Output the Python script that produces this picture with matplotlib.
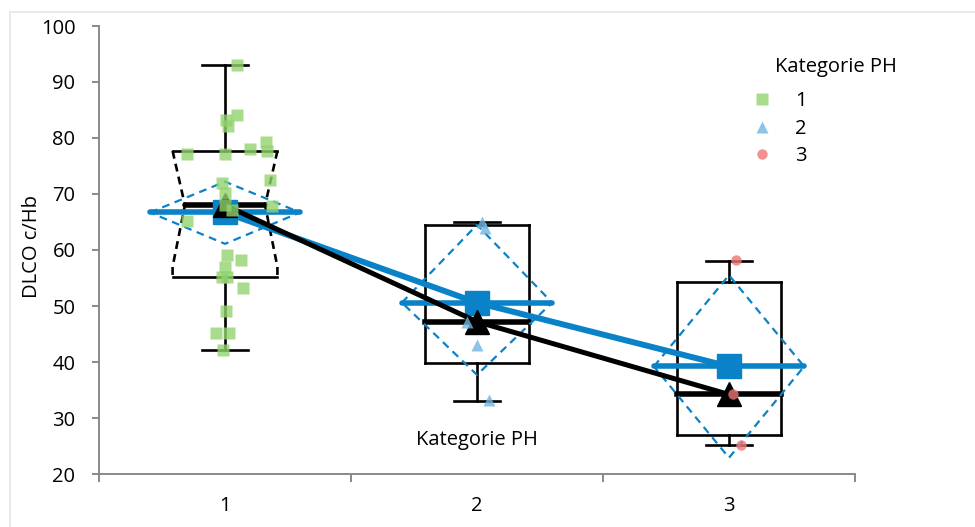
import numpy as np
import matplotlib
matplotlib.use("Agg")
import matplotlib.pyplot as plt
from matplotlib.lines import Line2D

plt.rcParams['font.family'] = ['Open Sans', 'DejaVu Sans']

categories = ['1', '2', '3']
group_title = 'Kategorie PH'

# raw measurements per group (value, horizontal jitter)
ph1_values = [93.0, 83.3, 84.1, 82.1, 77.1, 77.1, 78.0, 79.2, 77.6, 72.5,
              71.9, 70.1, 68.0, 67.1, 67.9, 65.2, 59.1, 58.2, 57.0, 55.2,
              55.1, 53.2, 49.1, 45.1, 45.1, 42.1]
ph1_jitter = [0.048, 0.004, 0.048, 0.012, -0.151, 0.0, 0.099, 0.163, 0.167, 0.179,
              -0.012, 0.0, 0.0, 0.028, 0.187, -0.151, 0.008, 0.063, 0.0, -0.012,
              0.008, 0.071, 0.004, -0.036, 0.016, -0.008]
ph2_values = [65.0, 64.0, 47.2, 43.0, 33.2]
ph2_jitter = [0.02, 0.032, -0.04, 0.0, 0.048]
ph3_values = [58.2, 34.2, 25.2]
ph3_jitter = [0.028, 0.016, 0.048]

# box plot summary
whisker_lo = [42.1, 33.1, 25.2]
q1 = [55.2, 39.8, 27.0]
median = [68.0, 47.2, 34.2]
q3 = [77.7, 64.5, 54.2]
whisker_hi = [93.0, 65.05, 58.0]
notch_lo = 57.0  # only group 1 is notched

# means with confidence diamonds
means = [66.7, 50.6, 39.2]
ci_lo = [61.1, 37.7, 22.9]
ci_hi = [72.2, 64.5, 55.5]

BLUE = '#0a82c8'
GREEN = '#92d36e'
LBLUE = '#6fb4e0'
RED = '#ee7777'
AXC = '#898989'
FS = 14.5

fig = plt.figure(figsize=(9.75, 5.27), dpi=100)
ax = fig.add_axes([99 / 975, 53 / 527, 756 / 975, 448 / 527])
ax.set_xlim(0.5, 3.5)
ax.set_ylim(20, 100)

# light frame at the top and left of the chart area
fig.add_artist(Line2D([10 / 975, 1], [1 - 12 / 527] * 2, color='#e6e6e6', lw=1.2))
fig.add_artist(Line2D([10 / 975] * 2, [0, 1 - 12 / 527], color='#e6e6e6', lw=1.2))

pos = np.arange(1, 4)
bw = 0.208   # half box width
cw = 0.093   # half cap width
dw = 0.298   # half diamond width
nw = 0.159   # half width at notch

for i, x in enumerate(pos):
    kw = dict(color='black', lw=1.9, zorder=2)
    # whiskers and caps
    ax.plot([x, x], [whisker_lo[i], q1[i]], **kw)
    ax.plot([x, x], [q3[i], whisker_hi[i]], **kw)
    ax.plot([x - cw, x + cw], [whisker_lo[i]] * 2, **kw)
    ax.plot([x - cw, x + cw], [whisker_hi[i]] * 2, **kw)
    ax.plot([x - bw, x + bw], [q1[i]] * 2, **kw)
    ax.plot([x - bw, x + bw], [q3[i]] * 2, **kw)
    if i == 0:
        for s in (-1, 1):
            ax.plot([x + s * bw, x + s * nw, x + s * bw, x + s * bw],
                    [q3[i], median[i], notch_lo, q1[i]],
                    color='black', lw=1.9, ls=(0, (3, 2)), zorder=2)
        ax.plot([x - nw, x + nw], [median[i]] * 2, color='black', lw=4, zorder=3,
                solid_capstyle='round')
    else:
        ax.plot([x - bw, x - bw], [q1[i], q3[i]], **kw)
        ax.plot([x + bw, x + bw], [q1[i], q3[i]], **kw)
        ax.plot([x - bw, x + bw], [median[i]] * 2, color='black', lw=4, zorder=3)

    # mean diamond
    ax.plot([x - dw, x, x + dw, x, x - dw],
            [means[i], ci_hi[i], means[i], ci_lo[i], means[i]],
            color=BLUE, lw=1.6, ls=(0, (3.5, 2.5)), zorder=3)
    ax.plot([x - dw, x + dw], [means[i]] * 2, color=BLUE, lw=4,
            solid_capstyle='round', zorder=4)

# mean and median trend lines
ax.plot(pos, means, color=BLUE, lw=4.3, zorder=5)
ax.plot(pos, means, ls='none', marker='s', ms=17, color=BLUE, zorder=6)
ax.plot(pos, median, color='black', lw=3.6, zorder=6)
ax.plot(pos, median, ls='none', marker='^', ms=17, color='black', zorder=7)

# individual observations
h1, = ax.plot(1 + np.array(ph1_jitter), ph1_values, ls='none', marker='s', ms=8,
              color=GREEN, alpha=0.8, mec='none', zorder=8)
h2, = ax.plot(2 + np.array(ph2_jitter), ph2_values, ls='none', marker='^', ms=9,
              color=LBLUE, alpha=0.8, mec='none', zorder=8)
h3, = ax.plot(3 + np.array(ph3_jitter), ph3_values, ls='none', marker='o', ms=7.5,
              color=RED, alpha=0.8, mec='none', zorder=8)

ax.legend([h1, h2, h3], categories, frameon=False,
          loc='upper left', bbox_to_anchor=(732 / 975, 1 - 73 / 527),
          bbox_transform=fig.transFigure, fontsize=FS,
          handlelength=1.2, handletextpad=1.05, labelspacing=0.37)
fig.text(775 / 975, 1 - 67 / 527, group_title, ha='left', va='center', fontsize=FS)

ax.text(2, 0.076, group_title, transform=ax.get_xaxis_transform(), ha='center',
        va='center', fontsize=FS)

# axes styling
for side in ('top', 'right'):
    ax.spines[side].set_visible(False)
for side in ('left', 'bottom'):
    ax.spines[side].set_color(AXC)
    ax.spines[side].set_linewidth(1.4)

ax.set_yticks(np.arange(20, 101, 10))
ax.tick_params(axis='y', direction='out', length=5, width=1.4, color=AXC,
               labelsize=FS, pad=12)
ax.set_xticks([0.5, 1.5, 2.5, 3.5])
ax.set_xticklabels([])
ax.set_xticks(pos, labels=categories, minor=True)
ax.tick_params(axis='x', which='minor', length=0, labelsize=FS, pad=16)
ax.tick_params(axis='x', which='major', direction='out', length=6, width=1.4, color=AXC)

fig.text(32 / 975, 1 - 247 / 527, 'DLCO c/Hb', rotation=90, ha='center', va='center',
         fontsize=FS)

fig.savefig('out.png', dpi=100)
